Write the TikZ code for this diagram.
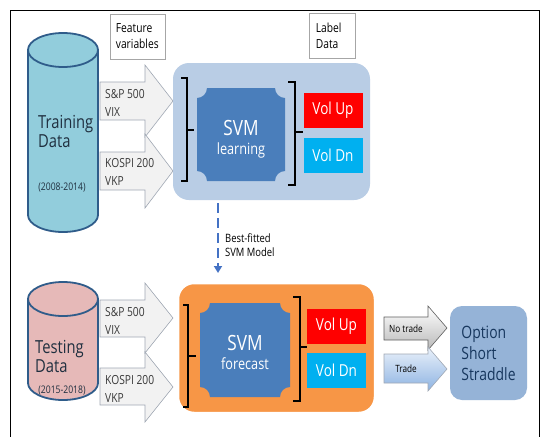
\documentclass[tikz,border=0pt]{standalone}
\usepackage{fontspec}
\setmainfont{Open Sans}[FakeStretch=0.82]
\usetikzlibrary{arrows.meta}
\definecolor{cyltrain}{HTML}{92CDDC}
\definecolor{cyltest}{HTML}{E6B9B8}
\definecolor{cylline}{HTML}{2F5C8A}
\definecolor{learnbg}{HTML}{B9CDE5}
\definecolor{forebg}{HTML}{F79646}
\definecolor{plaquec}{HTML}{4A7EBB}
\definecolor{volup}{HTML}{FF0000}
\definecolor{voldn}{HTML}{00B0F0}
\definecolor{optbg}{HTML}{95B3D7}
\definecolor{opttext}{HTML}{17375E}
\definecolor{arrfill}{HTML}{F2F2F2}
\definecolor{arrline}{HTML}{A0A8B4}
\definecolor{dashc}{HTML}{4472C4}
\definecolor{darktext}{HTML}{1F2F3F}
\definecolor{graytext}{HTML}{3A3A3A}
\definecolor{tradebot}{HTML}{8DB3E2}
\definecolor{tradetop}{HTML}{EAF1FA}
\newcommand{\fsz}[2]{\fontsize{#1}{#2}\selectfont}
\begin{document}
\begin{tikzpicture}[x=1pt,y=-1pt,
  cyl/.style={draw=cylline,line width=1.8pt},
  blockarr/.style={fill=arrfill,draw=arrline,line width=0.6pt},
  lbl/.style={inner sep=0pt,align=left,text=graytext},
  infobox/.style={draw=gray!70,fill=white,line width=0.6pt,inner sep=0pt,align=left,text=black},
  brace/.style={draw=black,line width=1.4pt},
  volbox/.style={inner sep=0pt,text=white,minimum width=59pt,minimum height=35pt,font=\fsz{16.5}{18}},
  plaque/.style={fill=plaquec}
]
\useasboundingbox (0,0) rectangle (542,437);
\fill[white] (0,0) rectangle (542,437);
% outer frame
\draw[line width=1pt] (10,437) -- (10,10) -- (539,10) -- (539,437);

% ---------- Training cylinder ----------
\fill[cyltrain] (28,50) -- (28,215) arc[start angle=180,end angle=0,x radius=35,y radius=17] -- (98,50) -- cycle;
\draw[cyl] (28,50) -- (28,215) arc[start angle=180,end angle=0,x radius=35,y radius=17] -- (98,50);
\draw[cyl,fill=cyltrain] (63,50) ellipse[x radius=35,y radius=17];
\node[lbl,anchor=west,text=darktext,font=\fsz{18}{19}] (traintxt) at (38,131) {Training\\Data};
\node[lbl,text=darktext,font=\fsz{10.5}{11}] (trainyr) at (62,188) {(2008-2014)};

% ---------- Testing cylinder ----------
\fill[cyltest] (28,299) -- (28,383) arc[start angle=180,end angle=0,x radius=35,y radius=17] -- (98,299) -- cycle;
\draw[cyl] (28,299) -- (28,383) arc[start angle=180,end angle=0,x radius=35,y radius=17] -- (98,299);
\draw[cyl,fill=cyltest] (63,299) ellipse[x radius=35,y radius=17];
\node[lbl,anchor=west,text=darktext,font=\fsz{18}{19}] (testtxt) at (35,356) {Testing\\Data};
\node[lbl,text=darktext,font=\fsz{10.5}{11}] (testyr) at (62,391) {(2015-2018)};

% ---------- info boxes ----------
\node[infobox,minimum width=55pt,minimum height=45pt] (feat) at (137.5,36.5) {};
\node[lbl,text=black,anchor=west,font=\fsz{12.5}{16}] (feattxt) at (feat.west) [xshift=6pt] {Feature\\variables};
\node[infobox,minimum width=46pt,minimum height=45pt] (labeld) at (332,35.5) {};
\node[lbl,text=black,anchor=west,font=\fsz{12.5}{16}] (labeltxt) at (labeld.west) [xshift=7pt] {Label\\Data};

% ---------- block arrows (training) ----------
\draw[blockarr] (100,82) -- (145,82) -- (145,65) -- (173,101) -- (145,137) -- (145,120) -- (100,120) -- cycle;
\draw[blockarr] (100,152) -- (145,152) -- (145,134) -- (173,171) -- (145,208) -- (145,190) -- (100,190) -- cycle;
\node[lbl,anchor=west,font=\fsz{12.5}{18}] (a1) at (105,103) {S\&P 500\\VIX};
\node[lbl,anchor=west,font=\fsz{12.5}{18}] (a2) at (105,172) {KOSPI 200\\VKP};

% ---------- block arrows (testing) ----------
\draw[blockarr] (100,300) -- (145,300) -- (145,283) -- (173,318) -- (145,353) -- (145,337) -- (100,337) -- cycle;
\draw[blockarr] (100,368) -- (145,368) -- (145,352) -- (173,387) -- (145,422) -- (145,405) -- (100,405) -- cycle;
\node[lbl,anchor=west,font=\fsz{12.5}{18}] (a3) at (105,321) {S\&P 500\\VIX};
\node[lbl,anchor=west,font=\fsz{12.5}{18}] (a4) at (105,389) {KOSPI 200\\VKP};

% ---------- learning box ----------
\node[fill=learnbg,rounded corners=16pt,minimum width=197pt,minimum height=137pt,inner sep=0pt] (learn) at (271.5,131.5) {};
\fill[plaque] (197,98) arc[start angle=90,end angle=0,radius=10] -- (275,88)
  arc[start angle=180,end angle=90,radius=10] -- (285,171)
  arc[start angle=270,end angle=180,radius=10] -- (207,181)
  arc[start angle=0,end angle=-90,radius=10] -- cycle;
\node[inner sep=0pt,text=white,font=\fsz{21}{22}] (svm1) at (241,128) {SVM};
\node[inner sep=0pt,text=white,font=\fsz{15.5}{17}] (learntxt) at (241,150) {learning};
\draw[brace] (181,78) -- (187,78) -- (187,181) -- (181,181) (187,130) -- (194,130);
\draw[brace] (288,82) -- (295,82) -- (295,185) -- (288,185) (295,132) -- (303,132);
\node[volbox,fill=volup] (up1) at (333,110.5) {Vol Up};
\node[volbox,fill=voldn] (dn1) at (333,155) {Vol Dn};

% ---------- dashed connector ----------
\coordinate (dstart) at (218,203);
\coordinate (dend) at (218,273);
\draw[dashc,line width=2.6pt,dash pattern=on 10pt off 5pt,-{Triangle[length=7pt,width=8pt]}] (dstart) -- (dend);
\node[lbl,text=black,anchor=west,font=\fsz{11.5}{14}] (best) at (225,245) {Best-fitted\\SVM Model};

% ---------- forecast box ----------
\node[draw=white,line width=2.5pt,fill=forebg,rounded corners=16pt,minimum width=197pt,minimum height=130pt,inner sep=0pt] (fore) at (276.5,348) {};
\fill[plaque] (200,313) arc[start angle=90,end angle=0,radius=10] -- (280,303)
  arc[start angle=180,end angle=90,radius=10] -- (290,387)
  arc[start angle=270,end angle=180,radius=10] -- (210,397)
  arc[start angle=0,end angle=-90,radius=10] -- cycle;
\node[inner sep=0pt,text=white,font=\fsz{21}{22}] (svm2) at (245,343) {SVM};
\node[inner sep=0pt,text=white,font=\fsz{15.5}{17}] (foretxt) at (245,364) {forecast};
\draw[brace] (183,305) -- (188,305) -- (188,407) -- (183,407) (188,356) -- (196,356);
\draw[brace] (293,297) -- (300,297) -- (300,401) -- (293,401) (300,347) -- (307,347);
\node[volbox,fill=volup] (up2) at (336.5,326.5) {Vol Up};
\node[volbox,fill=voldn] (dn2) at (336.5,370) {Vol Dn};

% ---------- output arrows ----------
\shade[top color=white,bottom color=gray!55,draw=gray!75!black,line width=0.6pt]
  (384,317) -- (428,317) -- (428,306) -- (447,328) -- (428,350) -- (428,340) -- (384,340) -- cycle;
\shade[top color=tradetop,bottom color=tradebot,draw=arrline,line width=0.6pt]
  (384,354) -- (428,354) -- (428,347) -- (447,369) -- (428,391) -- (428,383) -- (384,383) -- cycle;
\node[lbl,text=black,font=\fsz{10}{11}] (notrade) at (406,328.5) {No trade};
\node[lbl,text=black,font=\fsz{10}{11}] (trade) at (406,369) {Trade};

% ---------- option box ----------
\node[fill=optbg,rounded corners=12pt,minimum width=77pt,minimum height=94pt,inner sep=0pt,align=left,text=opttext,font=\fsz{17}{21}] (opt) at (488.5,353) {Option\\Short\\Straddle};
\end{tikzpicture}
\end{document}
